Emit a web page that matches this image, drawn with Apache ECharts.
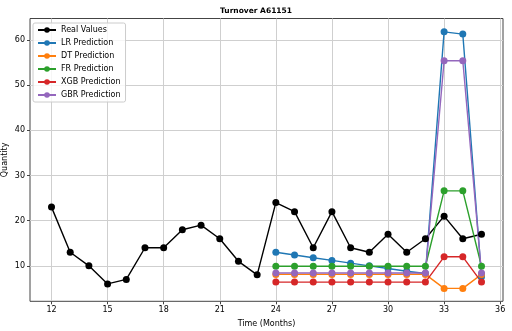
<!DOCTYPE html>
<html><head><meta charset="utf-8">
<script src="https://cdn.jsdelivr.net/npm/echarts@6/dist/echarts.min.js"></script>
<style>html,body{margin:0;padding:0;background:#fff}#c{width:512px;height:331px}</style>
</head><body><div id="c"></div>
<script>
const months = [12,13,14,15,16,17,18,19,20,21,22,23,24,25,26,27,28,29,30,31,32,33,34,35];
const predMonths = [24,25,26,27,28,29,30,31,32,33,34,35];
const realValues = [23,13,10,6,7,14,14,18,19,16,11,8,24,22,14,22,14,13,17,13,16,21,16,17];
const lrPred  = [13.0,12.4,11.8,11.2,10.6,10.0,9.4,8.8,8.3,61.8,61.3,7.6];
const dtPred  = [8.1,8.1,8.1,8.1,8.1,8.1,8.1,8.1,8.1,5.0,5.0,8.1];
const frPred  = [9.9,9.9,9.9,9.9,9.9,9.9,9.9,9.9,9.9,26.6,26.6,9.9];
const xgbPred = [6.4,6.4,6.4,6.4,6.4,6.4,6.4,6.4,6.4,12.0,12.0,6.4];
const gbrPred = [8.4,8.4,8.4,8.4,8.4,8.4,8.4,8.4,8.4,55.4,55.4,8.4];
const xTicks = [12,15,18,21,24,27,30,33,36];
const yTicks = [10,20,30,40,50,60];

const pair = (xs, ys) => xs.map((x,i)=>[x,ys[i]]);
const font = 'DejaVu Sans';
function mk(name, color, xs, ys){
  return {name, type:'line', data: pair(xs,ys), symbol:'circle', symbolSize:7,
    itemStyle:{color}, lineStyle:{color, width:1.4}, animation:false};
}
const chart = echarts.init(document.getElementById('c'));
chart.setOption({
  animation:false,
  title:{text:'Turnover A61151', left:'center', top:2,
    textStyle:{fontFamily:font, fontSize:7.5, fontWeight:'bold', color:'#000'}},
  grid:{left:30, right:9, top:18.5, bottom:29.7, show:true, borderColor:'#444', borderWidth:1,
    containLabel:false, outerBoundsMode:'none'},
  legend:{orient:'vertical', left:33, top:23, backgroundColor:'rgba(255,255,255,0.8)',
    borderColor:'#ccc', borderWidth:1, borderRadius:2, padding:[3,5,3,4],
    itemWidth:18, itemHeight:7, itemGap:5,
    textStyle:{fontFamily:font, fontSize:8, color:'#000'},
    data:['Real Values','LR Prediction','DT Prediction','FR Prediction','XGB Prediction','GBR Prediction']},
  xAxis:{type:'value', min:10.85, max:36.15, name:'Time (Months)', nameLocation:'middle', nameGap:19,
    nameMoveOverlap:false,
    nameTextStyle:{fontFamily:font, fontSize:8, color:'#000'},
    axisLine:{show:false},
    axisTick:{show:true, length:3, customValues:xTicks, lineStyle:{color:'#444'}},
    axisLabel:{customValues:xTicks, fontFamily:font, fontSize:8, color:'#000', margin:5},
    splitLine:{show:true, lineStyle:{color:'#cfcfcf', width:1}}},
  yAxis:{type:'value', min:2.15, max:64.75, name:'Quantity', nameLocation:'middle', nameGap:21,
    nameMoveOverlap:false,
    nameTextStyle:{fontFamily:font, fontSize:8, color:'#000'},
    axisLine:{show:false},
    axisTick:{show:true, length:3, customValues:yTicks, lineStyle:{color:'#444'}},
    axisLabel:{customValues:yTicks, fontFamily:font, fontSize:8, color:'#000', margin:5},
    splitLine:{show:true, lineStyle:{color:'#cfcfcf', width:1}}},
  series:[
    mk('Real Values','#000000',months,realValues),
    mk('LR Prediction','#1f77b4',predMonths,lrPred),
    mk('DT Prediction','#ff7f0e',predMonths,dtPred),
    mk('FR Prediction','#2ca02c',predMonths,frPred),
    mk('XGB Prediction','#d62728',predMonths,xgbPred),
    mk('GBR Prediction','#9467bd',predMonths,gbrPred)
  ]
});
</script></body></html>
